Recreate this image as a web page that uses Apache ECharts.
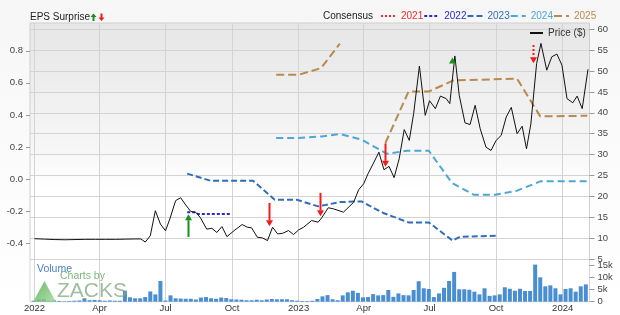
<!DOCTYPE html>
<html><head><meta charset="utf-8">
<script src="https://cdn.jsdelivr.net/npm/echarts@6/dist/echarts.min.js"></script>
<style>html,body{margin:0;padding:0;background:#fff}#c{width:620px;height:315px}</style>
</head><body><div id="c"></div>
<script>
// ---------- DATA ----------
const priceDates = ['2022-01-01','2022-01-15','2022-01-29','2022-02-12','2022-02-26','2022-03-12','2022-03-26','2022-04-09','2022-04-23','2022-05-07','2022-05-21','2022-05-28','2022-06-03','2022-06-10','2022-06-17','2022-06-24','2022-07-01','2022-07-07','2022-07-15','2022-07-22','2022-07-28','2022-08-05','2022-08-12','2022-08-18','2022-08-27','2022-09-03','2022-09-10','2022-09-17','2022-09-24','2022-10-04','2022-10-15','2022-10-22','2022-10-28','2022-11-05','2022-11-12','2022-11-19','2022-11-26','2022-12-03','2022-12-10','2022-12-18','2022-12-25','2023-01-01','2023-01-08','2023-01-19','2023-01-28','2023-02-02','2023-02-11','2023-02-18','2023-03-04','2023-03-18','2023-03-25','2023-04-01','2023-04-07','2023-04-14','2023-04-22','2023-04-29','2023-05-06','2023-05-13','2023-05-20','2023-05-27','2023-06-03','2023-06-09','2023-06-17','2023-06-25','2023-07-01','2023-07-09','2023-07-16','2023-07-24','2023-07-29','2023-08-05','2023-08-11','2023-08-19','2023-08-26','2023-09-02','2023-09-09','2023-09-17','2023-09-24','2023-10-01','2023-10-08','2023-10-15','2023-10-22','2023-10-30','2023-11-06','2023-11-12','2023-11-18','2023-11-26','2023-12-02','2023-12-10','2023-12-17','2023-12-24','2023-12-31','2024-01-07','2024-01-15','2024-01-21','2024-01-28','2024-02-05'];
const priceValues = [9.9,9.8,9.7,9.65,9.7,9.75,9.75,9.75,9.75,9.8,9.85,9.85,9.1,10.6,16.6,13.4,11.8,14.6,19.0,19.7,18.2,16.4,16.2,15.0,12.2,12.4,11.4,12.8,10.4,11.85,13.3,12.65,12.5,10.25,10.1,9.45,12.65,11.05,11.2,11.85,10.9,12.0,12.65,14.25,13.85,14.9,17.3,17.05,16.25,18.6,21.6,23.05,25.45,27.8,30.6,26.4,27.2,24.5,29.0,36.0,33.4,39.8,51.2,39.4,42.9,41.0,44.0,43.4,42.2,53.6,44.2,37.6,37.2,41.8,36.2,31.8,31.0,33.4,34.6,39.0,41.3,35.0,36.8,31.4,37.3,51.8,56.6,50.2,53.4,54.05,51.4,43.4,42.4,44.0,41.0,50.4];

const cons2022Dates = ['2022-07-31','2022-08-10','2022-08-15','2022-09-28'];
const cons2022Values = [-0.207,-0.207,-0.217,-0.217];
const cons2023Dates = ['2022-07-31','2022-09-01','2022-10-30','2022-11-29','2022-12-29','2023-01-28','2023-02-27','2023-03-29','2023-04-28','2023-06-02','2023-06-30','2023-08-02','2023-08-12','2023-10-01'];
const cons2023Values = [0.034,-0.010,-0.010,-0.128,-0.128,-0.170,-0.143,-0.139,-0.211,-0.270,-0.270,-0.384,-0.359,-0.353];
const cons2024Dates = ['2022-12-01','2023-01-01','2023-02-02','2023-02-27','2023-03-29','2023-05-03','2023-05-31','2023-06-30','2023-08-01','2023-08-31','2023-09-30','2023-10-30','2023-12-01','2024-02-04'];
const cons2024Values = [0.256,0.256,0.266,0.281,0.246,0.158,0.177,0.177,-0.024,-0.097,-0.097,-0.072,-0.014,-0.014];
const cons2025Dates = ['2022-12-01','2023-01-01','2023-02-01','2023-02-27','2023-03-20','2023-05-01','2023-06-02','2023-06-30','2023-08-03','2023-10-30','2023-12-01','2024-02-04'];
const cons2025Values = [0.650,0.650,0.692,0.844,null,0.225,0.546,0.546,0.615,0.626,0.391,0.395];

const surpriseDates = ['2022-08-01','2022-11-21','2023-01-31','2023-05-01','2023-08-01','2023-11-21'];
const surpriseFrom  = [10.33,18.47,20.87,32.69,51.79,56.22];
const surpriseTo    = [15.77,12.90,15.29,27.09,53.23,51.84];
const surpriseKind  = ['beat','miss','miss','miss','beat','missDotted'];

const volumeStart = '2021-12-31';
const volumeValues = [0.4,1.0,1.1,0.4,0.6,0.3,0.2,0.3,0.4,0.5,1.4,0.6,0.7,0.6,0.4,0.5,0.4,0.4,4.5,1.8,1.4,1.4,1.9,4.2,3.0,8.5,0.5,2.6,1.4,1.3,1.2,1.2,0.9,1.7,1.9,1.4,1.2,1.7,1.5,1.0,0.9,0.8,0.6,0.6,0.8,0.6,0.9,1.1,1.0,1.0,1.0,0.6,0.4,
  0.3,0.3,0.4,1.1,2.2,2.7,1.0,0.6,2.6,3.85,4.5,3.6,1.8,1.9,3.1,2.6,2.7,4.8,2.0,3.4,2.7,2.6,4.8,8.4,5.5,5.2,1.9,3.4,5.7,8.5,12.2,5.1,5.1,4.9,4.1,3.0,5.5,2.4,2.6,3.0,5.9,5.3,4.5,5.3,4.4,4.4,15.2,10.0,6.3,6.7,5.5,3.0,5.2,5.5,4.1,6.3,7.1]; // thousands

const quarterTicks = ['2022-01-01','2022-04-01','2022-07-01','2022-10-01','2023-01-01','2023-04-01','2023-07-01','2023-10-01','2024-01-01'];
const epsTicks = [-0.4,-0.2,0,0.2,0.4,0.6,0.8];
const priceTicks = [5,10,15,20,25,30,35,40,45,50,55,60];
const volumeTicks = [0,5000,10000,15000];
const legendYears = ['2021','2022','2023','2024','2025'];

// ---------- BUILD ----------
const FONT = '"Liberation Sans", Arial, Helvetica, sans-serif';
const ts = s => new Date(s.length > 10 ? s : s + 'T00:00:00').getTime();
const pair = (d, v) => d.map((x, i) => [ts(x), v[i]]);
const qTs = quarterTicks.map(ts);
const volStartTs = ts(volumeStart);
const volumeData = volumeValues.map((v, i) => [volStartTs + i * 7 * 86400000, v * 1000]);
const mon = ['Jan','Feb','Mar','Apr','May','Jun','Jul','Aug','Sep','Oct','Nov','Dec'];
const xMin = ts('2021-12-25T18:00:00'), xMax = ts('2024-02-07T02:00:00');
const colors = {'2021':'#ee2b2b','2022':'#2a2ad0','2023':'#2f6db8','2024':'#4aa8d8','2025':'#b88a4c'};

const chart = echarts.init(document.getElementById('c'), null, {renderer:'canvas'});
const gridLine = {show:true, lineStyle:{color:'#d3d3d3', width:1}};

const option = {
  animation:false,
  backgroundColor:{type:'linear',x:0,y:0,x2:0,y2:1,colorStops:[{offset:0,color:'#f6f6f6'},{offset:0.5,color:'#fbfbfb'},{offset:1,color:'#ffffff'}]},
  textStyle:{fontFamily:FONT},
  grid:[
    {left:30, right:30.5, top:23, height:236.5, show:true, borderColor:'#cfcfcf', borderWidth:1,
     backgroundColor:{type:'linear',x:0,y:0,x2:0,y2:1,colorStops:[{offset:0,color:'#e6e6e6'},{offset:0.55,color:'#f7f7f7'},{offset:0.7,color:'#ffffff'},{offset:1,color:'#ffffff'}]}},
    {left:30, right:30.5, top:259.5, height:42.2, show:true, borderColor:'#d6d6d6', borderWidth:1, backgroundColor:'#ffffff'}
  ],
  xAxis:[
    {type:'value', gridIndex:0, min:xMin, max:xMax, axisLine:{show:false}, axisTick:{show:false, customValues:qTs},
     axisLabel:{show:false, customValues:qTs}, splitLine:gridLine},
    {type:'value', gridIndex:1, min:xMin, max:xMax, axisLine:{show:false}, axisTick:{show:false, customValues:qTs},
     axisLabel:{customValues:qTs, fontSize:9.5, color:'#333', margin:2, fontFamily:FONT, hideOverlap:false,
       formatter:v => { const d = new Date(v); return d.getMonth() === 0 ? String(d.getFullYear()) : mon[d.getMonth()]; }},
     splitLine:gridLine}
  ],
  yAxis:[
    {type:'value', gridIndex:0, position:'left', min:-0.501, max:0.973, axisLine:{show:false},
     axisTick:{show:true, length:4, customValues:epsTicks, lineStyle:{color:'#999'}},
     axisLabel:{customValues:epsTicks, fontSize:9.5, color:'#444', margin:7, formatter:v => v.toFixed(1)},
     splitLine:{show:false}},
    {type:'value', gridIndex:0, position:'right', min:4.93, max:61.48, axisLine:{show:false},
     axisTick:{show:true, length:5, customValues:priceTicks, lineStyle:{color:'#999'}},
     axisLabel:{customValues:priceTicks, fontSize:9.5, color:'#444', margin:8},
     splitLine:gridLine},
    {type:'value', gridIndex:1, position:'right', min:0, max:17300, axisLine:{show:false},
     axisTick:{show:true, length:5, customValues:volumeTicks, lineStyle:{color:'#999'}},
     axisLabel:{customValues:volumeTicks, fontSize:9.5, color:'#444', margin:8, formatter:v => v ? (v/1000)+'k' : '0'},
     splitLine:{show:false}}
  ],
  legend:[
    {data:legendYears.map(n => ({name:n, textStyle:{color:colors[n]}})), left:375, top:6, itemWidth:15, itemHeight:8, itemGap:0,
     selectedMode:false, itemStyle:{opacity:0}, textStyle:{fontSize:10, fontFamily:FONT}},
    {data:['Price ($)'], left:524, top:23, itemWidth:13, itemHeight:8, itemGap:2, selectedMode:false, itemStyle:{opacity:0},
     textStyle:{fontSize:10, color:'#333', fontFamily:FONT}}
  ],
  series:[
    {name:'2021', type:'line', xAxisIndex:0, yAxisIndex:0, data:[], symbol:'none', lineStyle:{color:colors['2021'], width:2, type:[2,2]}, itemStyle:{color:colors['2021']}},
    {name:'2022', type:'line', xAxisIndex:0, yAxisIndex:0, data:pair(cons2022Dates,cons2022Values), symbol:'none', lineStyle:{color:colors['2022'], width:2, type:[3,2]}, itemStyle:{color:colors['2022']}},
    {name:'2023', type:'line', xAxisIndex:0, yAxisIndex:0, data:pair(cons2023Dates,cons2023Values), symbol:'none', lineStyle:{color:colors['2023'], width:2, type:[6,3]}, itemStyle:{color:colors['2023']}},
    {name:'2024', type:'line', xAxisIndex:0, yAxisIndex:0, data:pair(cons2024Dates,cons2024Values), symbol:'none', lineStyle:{color:colors['2024'], width:2, type:[7,4]}, itemStyle:{color:colors['2024']}},
    {name:'2025', type:'line', xAxisIndex:0, yAxisIndex:0, data:pair(cons2025Dates,cons2025Values), symbol:'none', connectNulls:false, lineStyle:{color:colors['2025'], width:2, type:[8,4]}, itemStyle:{color:colors['2025']}},
    {name:'Price ($)', type:'line', xAxisIndex:0, yAxisIndex:1, data:pair(priceDates,priceValues), symbol:'none', lineStyle:{color:'#111', width:1}, itemStyle:{color:'#111'}, z:5},
    {name:'surprise', type:'custom', xAxisIndex:0, yAxisIndex:1, z:6,
     data:surpriseDates.map((d,i) => [ts(d), surpriseFrom[i], surpriseTo[i]]),
     renderItem:function(params, api){
       const p1 = api.coord([api.value(0), api.value(1)]);
       const p2 = api.coord([api.value(0), api.value(2)]);
       const kind = surpriseKind[params.dataIndex];
       const color = kind === 'beat' ? '#14901c' : '#f21a1a';
       const dir = p2[1] < p1[1] ? -1 : 1;
       const head = 6, hw = 3.5;
       const x = Math.round(p1[0]) + 0.5;
       const base = p2[1] - dir * head;
       return {type:'group', children:[
         {type:'line', shape:{x1:x, y1:p1[1], x2:x, y2:base}, style:{stroke:color, lineWidth:2, lineDash: kind === 'missDotted' ? [2,2] : null}},
         {type:'polygon', shape:{points:[[x-hw, base],[x+hw, base],[x, p2[1]]]}, style:{fill:color}}
       ]};
     }},
    {name:'Volume', type:'bar', xAxisIndex:1, yAxisIndex:2, data:volumeData, barWidth:4, itemStyle:{color:'#4a8ed2'}}
  ],
  graphic:[
    {type:'text', left:30, top:12, style:{text:'EPS Surprise', font:'10px '+FONT, fill:'#222'}},
    {type:'polygon', shape:{points:[[93.5,13.5],[96.5,17],[94.5,17],[94.5,21],[92.5,21],[92.5,17],[90.5,17]]}, style:{fill:'#14901c'}},
    {type:'polygon', shape:{points:[[101.5,21],[104.5,17.5],[102.5,17.5],[102.5,13.5],[100.5,13.5],[100.5,17.5],[98.5,17.5]]}, style:{fill:'#f21a1a'}},
    {type:'text', left:323, top:11, style:{text:'Consensus', font:'10px '+FONT, fill:'#222'}},
    {type:'text', left:37, top:264, z:10, style:{text:'Volume', font:'10.5px '+FONT, fill:'#4a80c4'}},
    {type:'text', left:60, top:271, z:10, style:{text:'Charts by', font:'10.5px '+FONT, fill:'rgba(100,170,100,0.85)'}},
    {type:'polygon', z:10, shape:{points:[[33,302],[44.5,281],[56,302]]},
     style:{fill:{type:'linear',x:0,y:0,x2:1,y2:1,colorStops:[{offset:0,color:'rgba(90,175,90,0.9)'},{offset:1,color:'rgba(160,215,150,0.8)'}]}}},
    {type:'text', left:57, top:281, z:10, style:{text:'ZACKS', font:'21px '+FONT, fill:'rgba(125,165,125,0.75)'}}
  ]
};
chart.setOption(option);
</script></body></html>
